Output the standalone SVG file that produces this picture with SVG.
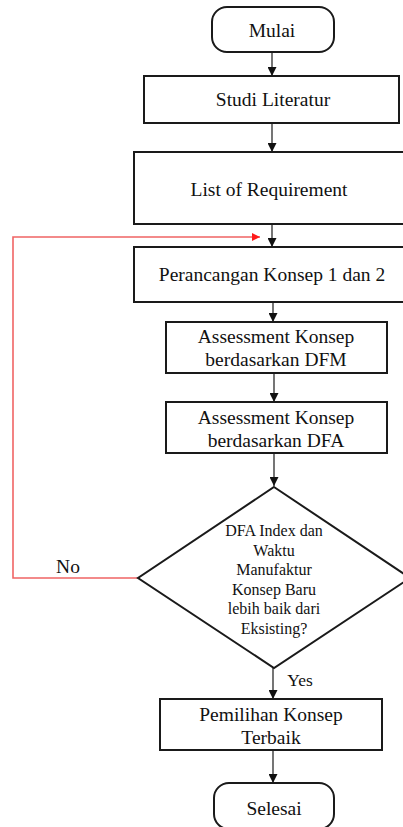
<svg xmlns="http://www.w3.org/2000/svg" width="403" height="827" viewBox="0 0 403 827">
<style>
.box{fill:#fff;stroke:#1a1a1a;stroke-width:2}
text{font-family:'Liberation Serif','DejaVu Serif',serif;fill:#111;text-anchor:middle}
.t{font-size:19.5px}
.d{font-size:16px}
.c{fill:none;stroke:#1a1a1a;stroke-width:1.2}
.r{fill:none;stroke:#f06464;stroke-width:1.6}
</style>
<defs>
<marker id="ah" viewBox="0 0 10 10" refX="10" refY="5" markerWidth="9" markerHeight="9" markerUnits="userSpaceOnUse" orient="auto"><path d="M0,0 L10,5 L0,10 z" fill="#111"/></marker>
<marker id="rh" viewBox="0 0 10 10" refX="10" refY="5" markerWidth="10" markerHeight="8" markerUnits="userSpaceOnUse" orient="auto"><path d="M0,0 L10,5 L0,10 z" fill="#ff1a1a"/></marker>
</defs>
<rect width="403" height="827" fill="#fff"/>
<g id="connectors">
<line class="c" x1="272" y1="52" x2="272" y2="76" marker-end="url(#ah)"/>
<line class="c" x1="272" y1="123" x2="272" y2="152" marker-end="url(#ah)"/>
<line class="c" x1="272" y1="224" x2="272" y2="247" marker-end="url(#ah)"/>
<line class="c" x1="273" y1="302" x2="273" y2="322" marker-end="url(#ah)"/>
<line class="c" x1="274" y1="373" x2="274" y2="402" marker-end="url(#ah)"/>
<line class="c" x1="274" y1="453" x2="274" y2="486" marker-end="url(#ah)"/>
<line class="c" x1="273" y1="668" x2="273" y2="699" marker-end="url(#ah)"/>
<line class="c" x1="273" y1="750" x2="273" y2="783" marker-end="url(#ah)"/>
<polyline class="r" points="138,578 13,578 13,237 260,237" marker-end="url(#rh)"/>
<text class="t" x="68" y="573" font-family="Liberation Serif">No</text>
<text class="t" x="300" y="686" font-family="Liberation Serif" style="font-size:17.5px">Yes</text>
</g>
<g id="mulai">
<rect class="box" x="212" y="7" width="122" height="45" rx="15"/>
<text class="t" x="272" y="37" font-family="Liberation Serif">Mulai</text>
</g>
<g id="studi">
<rect class="box" x="144" y="76" width="255" height="47"/>
<text class="t" x="273" y="106" font-family="Liberation Serif">Studi Literatur</text>
</g>
<g id="requirement">
<rect class="box" x="134" y="152" width="276" height="72"/>
<text class="t" x="269" y="196" font-family="Liberation Serif">List of Requirement</text>
</g>
<g id="perancangan">
<rect class="box" x="134" y="247" width="276" height="55"/>
<text class="t" x="272" y="281" font-family="Liberation Serif">Perancangan Konsep 1 dan 2</text>
</g>
<g id="dfm">
<rect class="box" x="166" y="322" width="221" height="51"/>
<text class="t" x="276" y="343" font-family="Liberation Serif">Assessment Konsep</text>
<text class="t" x="276" y="366" font-family="Liberation Serif">berdasarkan DFM</text>
</g>
<g id="dfa">
<rect class="box" x="166" y="402" width="221" height="51"/>
<text class="t" x="276" y="424" font-family="Liberation Serif">Assessment Konsep</text>
<text class="t" x="276" y="447" font-family="Liberation Serif">berdasarkan DFA</text>
</g>
<g id="decision">
<polygon class="box" points="274,487 410,578 274,668 138,578"/>
<text class="d" x="274" y="536" font-family="Liberation Serif">DFA Index  dan</text>
<text class="d" x="274" y="555.5" font-family="Liberation Serif">Waktu</text>
<text class="d" x="274" y="575" font-family="Liberation Serif">Manufaktur</text>
<text class="d" x="274" y="594.5" font-family="Liberation Serif">Konsep Baru</text>
<text class="d" x="274" y="614" font-family="Liberation Serif">lebih baik dari</text>
<text class="d" x="274" y="633.5" font-family="Liberation Serif">Eksisting?</text>
</g>
<g id="pemilihan">
<rect class="box" x="160" y="699" width="222" height="51"/>
<text class="t" x="271" y="721" font-family="Liberation Serif">Pemilihan Konsep</text>
<text class="t" x="271" y="744" font-family="Liberation Serif">Terbaik</text>
</g>
<g id="selesai">
<rect class="box" x="214" y="783" width="120" height="46" rx="15"/>
<text class="t" x="274" y="815" font-family="Liberation Serif">Selesai</text>
</g>
</svg>
